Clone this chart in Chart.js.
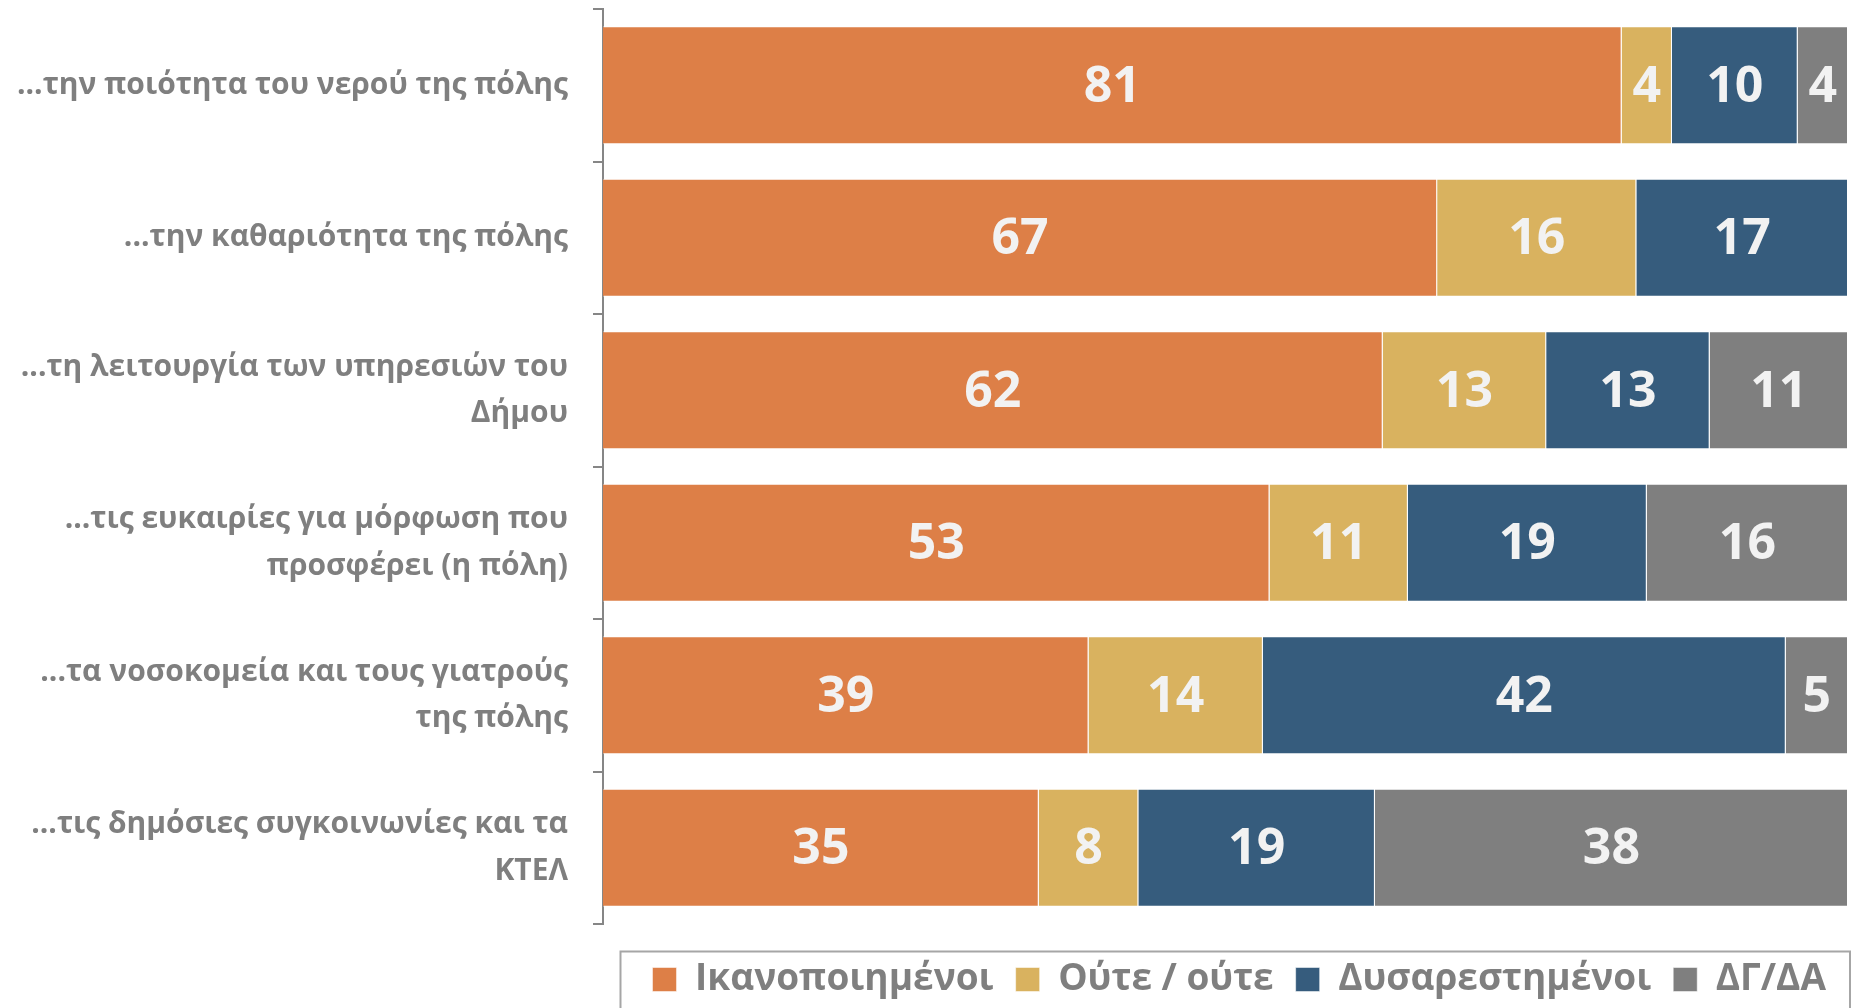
<!DOCTYPE html>
<html>
<head>
<meta charset="utf-8">
<script src="https://cdn.jsdelivr.net/npm/chart.js@4.4.1/dist/chart.umd.min.js"></script>
<style>
  html, body { margin: 0; padding: 0; background: #fff; }
  #wrap { width: 1852px; height: 1008px; position: relative; }
</style>
</head>
<body>
<div id="wrap"><canvas id="grafico"></canvas></div>
<script>
const categorias = [
  "...την ποιότητα του νερού της πόλης",
  "...την καθαριότητα της πόλης",
  ["...τη λειτουργία των υπηρεσιών του", "Δήμου"],
  ["...τις ευκαιρίες για μόρφωση που", "προσφέρει (η πόλη)"],
  ["...τα νοσοκομεία και τους γιατρούς", "της πόλης"],
  ["...τις δημόσιες συγκοινωνίες και τα", "ΚΤΕΛ"]
];
const ikanopoiimenoi = [81, 67, 62, 53, 39, 35];
const oute = [4, 16, 13, 11, 14, 8];
const dysarestimenoi = [10, 17, 13, 19, 42, 19];
const dgda = [4, null, 11, 16, 5, 38];

const series = [
  { nome: "Ικανοποιημένοι", valores: ikanopoiimenoi, cor: "#DD7F47" },
  { nome: "Ούτε / ούτε", valores: oute, cor: "#D9B25F" },
  { nome: "Δυσαρεστημένοι", valores: dysarestimenoi, cor: "#365C7D" },
  { nome: "ΔΓ/ΔΑ", valores: dgda, cor: "#7F7F7F" }
];

// 100% stacked: each row is scaled to its own total
const totais = categorias.map((c, i) =>
  series.reduce((acc, s) => acc + (s.valores[i] || 0), 0));

const rotulos = {
  id: "rotulos",
  afterDatasetsDraw(chart) {
    const ctx = chart.ctx;
    ctx.save();
    ctx.fillStyle = "#F2F2F2";
    ctx.font = "bold 50px 'Open Sans'";
    ctx.textAlign = "center";
    ctx.textBaseline = "middle";
    chart.data.datasets.forEach((ds, d) => {
      chart.getDatasetMeta(d).data.forEach((bar, i) => {
        const v = series[d].valores[i];
        if (v == null) return;
        ctx.fillText(v, (bar.x + bar.base) / 2, bar.y + 2);
      });
    });
    ctx.restore();
  }
};

const caixaLegenda = {
  id: "caixaLegenda",
  afterDraw(chart) {
    const boxes = chart.legend.legendHitBoxes;
    if (!boxes || !boxes.length) return;
    const first = boxes[0], last = boxes[boxes.length - 1];
    const centro = first.top + first.height / 2;
    const ctx = chart.ctx;
    ctx.save();
    ctx.strokeStyle = "#A6A6A6";
    ctx.lineWidth = 2;
    ctx.strokeRect(first.left - 32, centro - 28, last.left + last.width - first.left + 56, 100);
    ctx.restore();
  }
};

const ctx = document.getElementById("grafico").getContext("2d");

new Chart(ctx, {
  type: "bar",
  data: {
    labels: categorias,
    datasets: series.map(s => ({
      label: s.nome,
      data: s.valores.map((v, i) => v == null ? null : v / totais[i] * 100),
      backgroundColor: s.cor,
      borderColor: "rgba(255,255,255,0.5)",
      borderWidth: 1,
      categoryPercentage: 1,
      barPercentage: 0.774
    }))
  },
  options: {
    indexAxis: "y",
    responsive: true,
    maintainAspectRatio: false,
    animation: false,
    layout: { padding: { top: 9, right: 4, left: 0, bottom: 0 } },
    scales: {
      x: { stacked: true, min: 0, max: 100, display: false },
      y: {
        stacked: true,
        afterFit: (s) => {
          s.width = 603;
          s.paddingTop = 0;
          s.paddingBottom = 0;
        },
        border: { display: true, color: "#868686", width: 2 },
        grid: {
          offset: true,
          drawOnChartArea: false,
          drawTicks: true,
          tickLength: 10,
          color: "#868686",
          lineWidth: 2
        },
        ticks: {
          padding: 25,
          color: "#7F7F7F",
          font: { family: "'Open Sans'", size: 30, weight: "bold", lineHeight: 1.55 }
        }
      }
    },
    plugins: {
      tooltip: { enabled: false },
      legend: {
        position: "bottom",
        align: "end",
        // empty title only adds space between the axis and the legend row
        title: { display: true, text: " ", padding: 0, font: { size: 15, lineHeight: 1 } },
        labels: {
          color: "#7F7F7F",
          boxWidth: 24,
          boxHeight: 24,
          padding: 22,
          font: { family: "'Open Sans'", size: 37, weight: "bold" }
        }
      }
    }
  },
  plugins: [rotulos, caixaLegenda]
});
</script>
</body>
</html>
